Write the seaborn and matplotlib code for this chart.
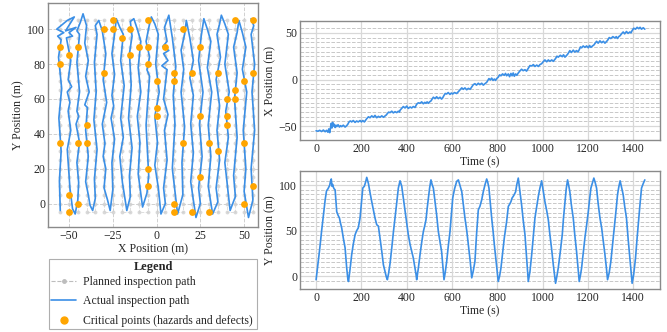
import matplotlib
matplotlib.use("Agg")
import matplotlib.pyplot as plt
from matplotlib.lines import Line2D
import seaborn as sns
import pandas as pd

# ---------------- data ----------------
# actual inspection path: time (s), x (m), y (m)
time_s = [
    0, 8, 16, 24, 32, 40, 46, 52, 56, 60, 64,
    67, 70, 73, 76, 80, 84, 88, 91, 97, 103, 108, 113, 120, 128, 135, 140, 143,
    147, 152, 157, 164, 172, 179, 186, 194, 200, 206, 213, 219, 223.5,
    231, 238, 245.6, 253, 260, 267.6, 275, 282, 290, 297, 304.4, 310, 314.6,
    320, 326.5, 334, 341, 348.5, 356, 363, 368, 370.5,
    378, 385, 392.6, 400, 407, 415, 422, 429, 436.6, 441, 444,
    451, 458.7, 466, 473.4, 480, 485, 490, 495.6, 501, 507,
    512, 517.6, 525, 532, 539.6, 547, 554, 559, 564.6,
    570, 576.4, 583, 591, 597, 603, 611, 620.6, 628,
    635, 643, 650, 657, 665, 672, 680, 687,
    694, 701, 708, 716, 723, 731, 738, 745.5, 753,
    758, 763, 769, 775, 781, 786.6, 792, 797, 804,
    810, 816, 823, 830.7, 836, 841, 848.5, 854, 860, 865, 870, 875, 880.8, 886, 892.4,
    899, 907, 914, 922, 929, 936.6,
    944, 951.6, 959, 966, 974, 981, 988, 995.6,
    1002, 1010, 1018, 1025, 1032, 1040, 1047, 1052, 1057,
    1063, 1069, 1078, 1086.6, 1092, 1098.5, 1104, 1110,
    1115, 1120, 1127, 1135, 1142, 1149.7, 1156, 1161.5,
    1167, 1172, 1179, 1186.5, 1194, 1201.5, 1207, 1213, 1220, 1226,
    1232, 1238, 1245, 1253, 1260.5, 1268, 1275, 1281, 1286.5,
    1294, 1301, 1310, 1319, 1325, 1330.5, 1336, 1342,
    1348, 1355.5, 1362, 1370, 1377, 1385, 1390, 1395,
    1402, 1410, 1417, 1424.6, 1430, 1436.5, 1444, 1451,
]
x_pos = [
    -55, -55.5, -54.5, -55.8, -54.2, -56, -54.5, -56.5, -53, -57, -51,
    -47, -52, -46, -50, -48, -51.5, -49, -50.5, -48.5, -51, -49.5, -50.5, -49, -51, -49.5, -48, -46.5,
    -45, -44.5, -45.5, -44, -46, -44.5, -45.5, -44, -45.5, -44, -45.5, -43.5, -42,
    -40, -41, -39, -40.5, -38.5, -41, -39.5, -40.5, -39, -40.5, -39, -38, -36.5,
    -35, -35.5, -34, -35.8, -34.5, -35.5, -34, -35, -33,
    -31, -29, -30.5, -28.5, -31, -29.5, -30.5, -29, -30, -28, -26.5,
    -25, -25.5, -24, -26, -24.5, -25.5, -24, -25.5, -24, -23,
    -21, -19, -20.5, -18.5, -20.5, -19, -21, -19.5, -17,
    -15, -15.5, -14, -16, -14.5, -15.5, -14, -15, -13,
    -11, -9, -10.5, -9, -11, -9.5, -10.5, -8,
    -5.5, -4.5, -6, -4, -5.5, -4, -6, -4.5, -3,
    -1, 1, -0.5, 1.5, -1, 0.5, -1, 1, 2.5,
    5, 4, 6, 4.5, 6.5, 4, 6, 3, 6.5, 4, 7, 3.5, 6, 4.5, 7,
    9, 11, 9.5, 10.5, 9, 12,
    15, 14.5, 16, 14, 15.5, 14, 16, 17,
    19, 21, 19, 21, 19.5, 21, 19.5, 21, 22.5,
    25, 24, 26, 24.5, 26.5, 24, 25.5, 27,
    29, 31, 29, 31.5, 29.5, 31, 29.5, 32,
    35, 34, 36, 34.5, 36, 34, 36.5, 34.5, 36, 37,
    39, 41, 39, 41.5, 39.5, 41, 39, 40.5, 42,
    45, 44, 46, 44.5, 46, 44, 46, 47,
    49, 51, 49, 51.5, 49.5, 51, 50, 52.5,
    55, 54, 56, 54.5, 56, 54, 55.5, 54,
]
y_pos = [
    -4, 13, 30, 49, 66, 84, 94, 96, 98, 100, 105,
    107, 99, 101, 98, 96, 95, 82, 71, 67, 64, 58, 53, 42, 31, 9, -3, -6,
    2, 12, 23.5, 35, 45.5, 50, 53, 64, 81, 97, 99, 104, 108.8,
    102, 92, 82, 73, 64, 56.6, 55, 42, 27, 12.5, 5, -1, -4,
    3, 14, 31, 48, 64, 81, 97, 102, 105,
    99, 86, 71, 58, 45.5, 34.5, 27, 20, 9, 2, -4,
    8, 23.5, 37, 49, 56, 62, 74, 86, 97, 106,
    101, 97, 82, 67.6, 49, 38, 27, 12, -4,
    4, 16, 32, 49, 68, 86, 96, 104.4, 106,
    100, 93, 78, 64, 50, 35, 17, -2,
    6, 16, 45, 73, 76.7, 84, 93, 100.7, 107,
    103, 97, 80, 64, 50, 35, 22, 9, -6,
    0, 9, 25, 42, 51, 60, 76.8, 79, 82, 86, 87.8, 90, 93, 101, 108,
    95, 78.7, 62, 45.6, 20, -6,
    5, 23.5, 44, 64, 77, 88, 97, 105,
    95, 82, 72, 62, 45.6, 29, 12.5, 2, -8,
    0, 9, 27, 45.6, 64, 82, 96, 106,
    100, 93, 78, 64, 45, 27, 10, -6,
    1, 9, 25, 42, 56, 71, 84, 97, 103, 108,
    103, 97, 80, 64, 53, 38, 23.5, 10, -4,
    4, 16, 38, 60, 75, 89.7, 98, 105,
    98, 89.7, 77, 64, 42, 20, 7, -8,
    2, 20, 42, 64, 80, 97, 102, 106,
]

# planned inspection path grid
planned_cols = [-55, -50, -45, -40, -35, -30, -25, -20, -15, -10, -5, 0,
                5, 10, 15, 20, 25, 30, 35, 40, 45, 50, 55]
planned_rows = [-5, 0, 5, 10, 15, 20, 25, 30, 35, 40, 45, 50,
                55, 60, 65, 70, 75, 80, 85, 90, 95, 100, 105]

# critical points (hazards and defects)
crit_x = [-25, -30, -25, -20, -15, -5, -10, -5, -15, -5, -55, -50, -45, -55,
          -30, 0, 0, 0, -40, -55, -45, -40, -5, -5, -50, -45, -50,
          15, 5, 25, 10, 10, 20, 35, 45, 55, 55, 50, 45, 40, 45, 25, 40, 40,
          15, 30, 35, 50, 25, 55, 10, 10, 20, 30, 50]
crit_y = [105, 100, 100, 95, 100, 105, 90, 90, 85, 80, 90, 85, 90, 80,
          75, 70, 55, 50, 45, 35, 35, 35, 20, 10, 5, 0, -5,
          100, 90, 90, 75, 70, 75, 75, 105, 105, 75, 70, 65, 60, 60, 50, 50, 45,
          35, 35, 30, 35, 15, 10, 0, -5, -5, -5, 0]

# ---------------- build tables ----------------
path = pd.DataFrame({"t": time_s, "x": x_pos, "y": y_pos})
pl_x, pl_y = [], []
for i, c in enumerate(planned_cols):
    rows = planned_rows if i % 2 == 0 else planned_rows[::-1]
    pl_x += [c] * len(rows)
    pl_y += rows
planned = pd.DataFrame({"x": pl_x, "y": pl_y})
crit = pd.DataFrame({"x": crit_x, "y": crit_y})

# ---------------- style ----------------
sns.set_theme(style="whitegrid")
plt.rcParams["font.family"] = ["Liberation Serif", "DejaVu Serif"]
plt.rcParams["axes.unicode_minus"] = True

BLUE = "#3b8fe6"
ORANGE = "#ffa500"
SPINE = "#8a8a8a"
FS = 8.5

fig = plt.figure(figsize=(6.67, 3.32), dpi=100)
ax0 = fig.add_axes([0.072, 0.316, 0.315, 0.675])
ax1 = fig.add_axes([0.4498, 0.578, 0.5397, 0.358])
ax2 = fig.add_axes([0.4498, 0.1295, 0.5397, 0.3554])

# left panel: map
sns.lineplot(data=planned, x="x", y="y", sort=False, estimator=None, ax=ax0,
             color="#cfcfcf", linestyle="--", linewidth=0.6, marker="o",
             markersize=2.8, markeredgewidth=0, alpha=0.8, zorder=1)
sns.lineplot(data=path, x="x", y="y", sort=False, estimator=None, ax=ax0,
             color=BLUE, linewidth=1.2, zorder=2)
sns.scatterplot(data=crit, x="x", y="y", ax=ax0, color=ORANGE, s=24,
                linewidth=0, zorder=3)
ax0.set_xlim(-62, 58)
ax0.set_ylim(-13.5, 115)
ax0.set_xticks([-50, -25, 0, 25, 50])
ax0.set_yticks([0, 20, 40, 60, 80, 100])
ax0.grid(True, linestyle="--", color="#d0d0d0", linewidth=0.7)
ax0.set_xlabel("X Position (m)", fontsize=FS, labelpad=1)
ax0.set_ylabel("Y Position (m)", fontsize=FS, labelpad=2)

# right panels
for ax, col, rows, ylab, yt, ylim in [
    (ax1, "x", planned_cols, "X Position (m)", [-50, 0, 50], (-65, 62.5)),
    (ax2, "y", planned_rows, "Y Position (m)", [0, 50, 100], (-14.3, 115.8)),
]:
    for r in rows:
        ax.axhline(r, color="#c8c8c8", linestyle="--", linewidth=0.7, zorder=0)
    sns.lineplot(data=path, x="t", y=col, sort=False, estimator=None, ax=ax,
                 color=BLUE, linewidth=1.2, zorder=2)
    ax.set_xlim(-71, 1518)
    ax.set_ylim(*ylim)
    ax.set_yticks(yt)
    ax.set_xticks([0, 200, 400, 600, 800, 1000, 1200, 1400])
    ax.grid(True, color="#d8d8d8", linewidth=0.9)
    ax.set_xlabel("Time (s)", fontsize=FS, labelpad=1)
    ax.set_ylabel(ylab, fontsize=FS, labelpad=2)

for ax in (ax0, ax1, ax2):
    ax.set_facecolor("white")
    ax.tick_params(labelsize=FS, pad=2, length=0)
    for sp in ax.spines.values():
        sp.set_color(SPINE)
        sp.set_linewidth(1.0)
    if ax.get_legend():
        ax.get_legend().remove()

handles = [
    Line2D([], [], color="#bdbdbd", linestyle="--", marker="o", markersize=2.5,
           linewidth=0.8),
    Line2D([], [], color=BLUE, linewidth=1.2),
    Line2D([], [], color=ORANGE, marker="o", linestyle="none", markersize=5),
]
labels = ["Planned inspection path", "Actual inspection path",
          "Critical points (hazards and defects)"]
leg = fig.legend(handles, labels, loc="upper left",
                 bbox_to_anchor=(49 / 667, 1 - 259 / 332, 208 / 667, 0.0),
                 mode="expand", title="Legend", fontsize=FS,
                 title_fontproperties={"weight": "bold", "size": 9},
                 frameon=True, fancybox=False, edgecolor="#9a9a9a",
                 labelspacing=0.62, handlelength=2.1, handletextpad=0.6,
                 borderaxespad=0, borderpad=0.2)
leg._legend_box.sep = 2.0
leg.get_frame().set_linewidth(0.8)

fig.savefig("out.png", dpi=100)
